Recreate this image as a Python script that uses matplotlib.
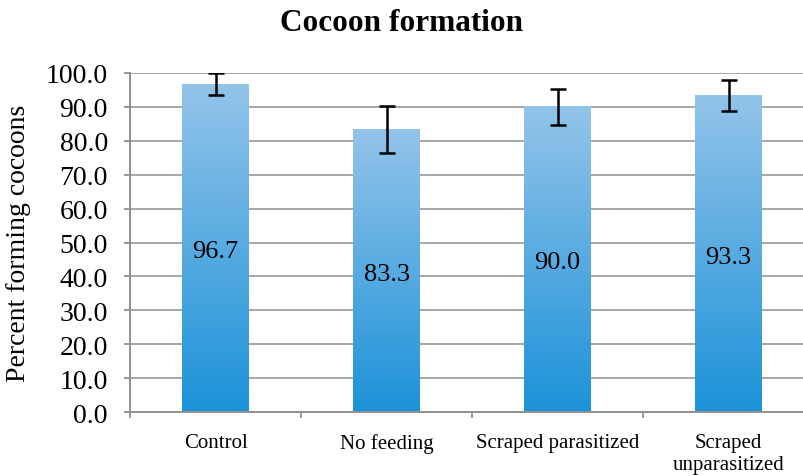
import matplotlib.pyplot as plt
import numpy as np
from matplotlib.colors import LinearSegmentedColormap

plt.rcParams['font.family'] = ['Liberation Serif', 'DejaVu Serif']

categories = ["Control", "No feeding", "Scraped parasitized", "Scraped\nunparasitized"]
values = [96.7, 83.3, 90.0, 93.3]
errors = [3.3, 7.0, 5.4, 4.6]

fig = plt.figure(figsize=(8.04, 4.77), dpi=100)
ax = fig.add_axes([0.1617, 0.134, 0.851, 0.711])

x = np.arange(len(categories))
bars = ax.bar(x, values, width=0.39, color="none", zorder=2)

cmap = LinearSegmentedColormap.from_list("blu", ["#1c92d8", "#93c4ea"])
grad = np.linspace(0, 1, 256).reshape(-1, 1)
for b in bars:
    x0, w, h = b.get_x(), b.get_width(), b.get_height()
    ax.imshow(grad, cmap=cmap, origin="lower", aspect="auto",
              extent=[x0, x0 + w, 0, h], zorder=2)

ax.errorbar(x, values, yerr=errors, fmt="none", ecolor="black",
            elinewidth=1.8, capsize=5.5, capthick=1.8, zorder=3)

for xi, v in zip(x, values):
    ax.text(xi, v / 2 - 0.8, f"{v:.1f}", ha="center", va="center", fontsize=19, zorder=4)

ax.set_xlim(-0.5, len(categories) - 0.5)
ax.set_ylim(0, 100)
ax.set_yticks(np.arange(0, 101, 10))
ax.set_yticklabels([f"{t:.1f}" for t in np.arange(0, 101, 10)], fontsize=20)
ax.set_xticks(x)
ax.set_xticklabels(categories, fontsize=15, linespacing=1.2)
ax.set_xticks(np.arange(-0.5, len(categories), 1), minor=True)
ax.tick_params(axis="x", which="major", length=0, pad=15)
ax.tick_params(axis="x", which="minor", length=4, color="#909090", width=1.3)
ax.tick_params(axis="y", length=4, color="#909090", width=1.3, pad=12)
ax.yaxis.grid(True, color="#a6a6a6", linewidth=1.4, zorder=0)
ax.set_axisbelow(True)
for s in ["top", "right"]:
    ax.spines[s].set_visible(False)
for s in ["bottom", "left"]:
    ax.spines[s].set_color("#909090")
    ax.spines[s].set_linewidth(1.4)

ax.set_ylabel("Percent forming cocoons", fontsize=20)
ax.yaxis.set_label_coords(-0.145, 0.5)
fig.text(0.5, 0.951, "Cocoon formation", ha="center", va="center",
         fontsize=22.5, fontweight="bold")

fig.savefig("out.png", dpi=100)
